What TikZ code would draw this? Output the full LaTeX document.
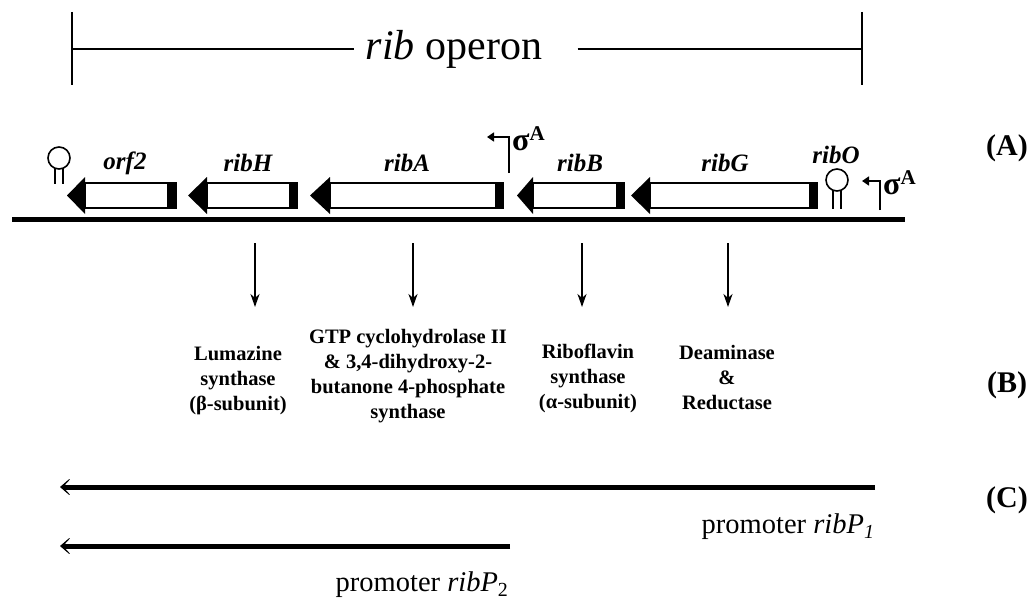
\documentclass[tikz,border=0pt]{standalone}
\usepackage{fontspec}
\setmainfont{Liberation Serif}
\usetikzlibrary{arrows.meta}

\tikzset{
	genelabel/.style={font=\fontsize{25}{30}\selectfont\bfseries\itshape},
	enzyme/.style={align=center, font=\fontsize{20.5}{25}\selectfont\bfseries},
	partlabel/.style={font=\fontsize{30}{34}\selectfont\bfseries},
	promlabel/.style={font=\fontsize{28.5}{30}\selectfont},
	sigmalabel/.style={font=\fontsize{32}{34}\selectfont\bfseries, inner sep=0pt},
	shaft/.style={line width=2pt, fill=white},
	loopline/.style={line width=1.6pt},
	sigarrow/.style={line width=1.6pt, -{Triangle[length=7pt, width=9pt]}},
	downarrow/.style={line width=2pt, -{Stealth[length=13pt, width=9pt, inset=4pt]}},
	bigarrow/.style={line width=5pt, -{Stealth[length=14pt, width=24pt, inset=11pt]}},
}

\begin{document}
\begin{tikzpicture}[x=1pt, y=-1pt]
			\useasboundingbox (0,0) rectangle (1032,599);
			
			% operon bracket
			\node[font=\fontsize{42}{46}\selectfont] (operon) at (454,49) {\textit{rib} operon};
			\draw[line width=2.5pt] (72,12) -- (72,85);
			\draw[line width=2.5pt] (862,12) -- (862,85);
			\draw[line width=2.5pt] (72,49) -- ([xshift=-8pt]operon.west);
			\draw[line width=2.5pt] ([xshift=32pt]operon.east) -- (862,49);
			
			% chromosome
			\draw[line width=5pt] (12,219) -- (905,219);
			
			% orf2
			\fill (67,195.5) -- (85,177) -- (85,214) -- cycle;
			\draw[shaft] (85,183) rectangle (168,208);
			\fill (168,182) rectangle (177,209);
			\node[genelabel] (orf) at (125,163) {orf2};
			
			% ribH
			\fill (188,195.5) -- (207,177) -- (207,214) -- cycle;
			\draw[shaft] (207,183) rectangle (290,208);
			\fill (290,182) rectangle (298,209);
			\node[genelabel] (ribH) at (248,163) {ribH};
			
			% ribA
			\fill (310,195.5) -- (330,177) -- (330,214) -- cycle;
			\draw[shaft] (330,183) rectangle (496,208);
			\fill (496,182) rectangle (504,209);
			\node[genelabel] (ribA) at (407,163) {ribA};
			
			% ribB
			\fill (517,195.5) -- (533,177) -- (533,214) -- cycle;
			\draw[shaft] (533,183) rectangle (617,208);
			\fill (617,182) rectangle (625,209);
			\node[genelabel] (ribB) at (580,163) {ribB};
			
			% ribG
			\fill (631,195.5) -- (650,177) -- (650,214) -- cycle;
			\draw[shaft] (650,183) rectangle (810,208);
			\fill (810,182) rectangle (818,209);
			\node[genelabel] (ribG) at (725,163) {ribG};
			\node[genelabel] (ribO) at (836,155) {ribO};
			
			% terminators
			\draw[loopline] (59,158) circle[radius=11pt];
			\draw[loopline] (55,168) -- (55,184) (63,168) -- (63,184);
			\draw[loopline] (837,180) circle[radius=11pt];
			\draw[loopline] (833,190) -- (833,209) (841,190) -- (841,209);
			
			% sigma A promoters
			\draw[sigarrow] (509,173) -- (509,137) -- (487,137);
			\node[sigmalabel, anchor=west] (sigA) at (512,139) {σ\raisebox{10pt}{\fontsize{21}{22}\selectfont A}};
			\draw[sigarrow] (880,210) -- (880,181) -- (862,181);
			\node[sigmalabel, anchor=west] (sigO) at (883,183) {σ\raisebox{10pt}{\fontsize{21}{22}\selectfont A}};
			
			% gene products
			\node[enzyme] (lum) at (238,381) {Lumazine\\synthase\\(β-subunit)};
			\node[enzyme] (gtp) at (408,376) {GTP cyclohydrolase II\\\& 3,4-dihydroxy-2-\\butanone 4-phosphate\\synthase};
			\node[enzyme] (ribo) at (588,378) {Riboflavin\\synthase\\(α-subunit)};
			\node[enzyme] (deam) at (727,378) {Deaminase\\\&\\Reductase};
			
			\coordinate (h1) at (255,243); \coordinate (h2) at (255,307);
			\coordinate (a1) at (413,243); \coordinate (a2) at (413,307);
			\coordinate (b1) at (582,243); \coordinate (b2) at (582,307);
			\coordinate (g1) at (728,243); \coordinate (g2) at (728,307);
			\draw[downarrow] (h1) -- (h2);
			\draw[downarrow] (a1) -- (a2);
			\draw[downarrow] (b1) -- (b2);
			\draw[downarrow] (g1) -- (g2);
			
			% transcripts
			\coordinate (p1) at (875,487); \coordinate (t1) at (60,487);
			\coordinate (p2) at (510,546); \coordinate (t2) at (60,546);
			\draw[bigarrow] (p1) -- (t1);
			\draw[bigarrow] (p2) -- (t2);
			\node[promlabel, anchor=east] (prom1) at (878,527) {promoter \textit{ribP}\textsubscript{\textit{1}}};
			\node[promlabel, anchor=east] (prom2) at (512,585) {promoter \textit{ribP}\textsubscript{2}};
			
			% panel letters
			\node[partlabel] (A) at (1007,148) {(A)};
			\node[partlabel] (B) at (1007,385) {(B)};
			\node[partlabel] (C) at (1007,500) {(C)};
		\end{tikzpicture}
\end{document}
